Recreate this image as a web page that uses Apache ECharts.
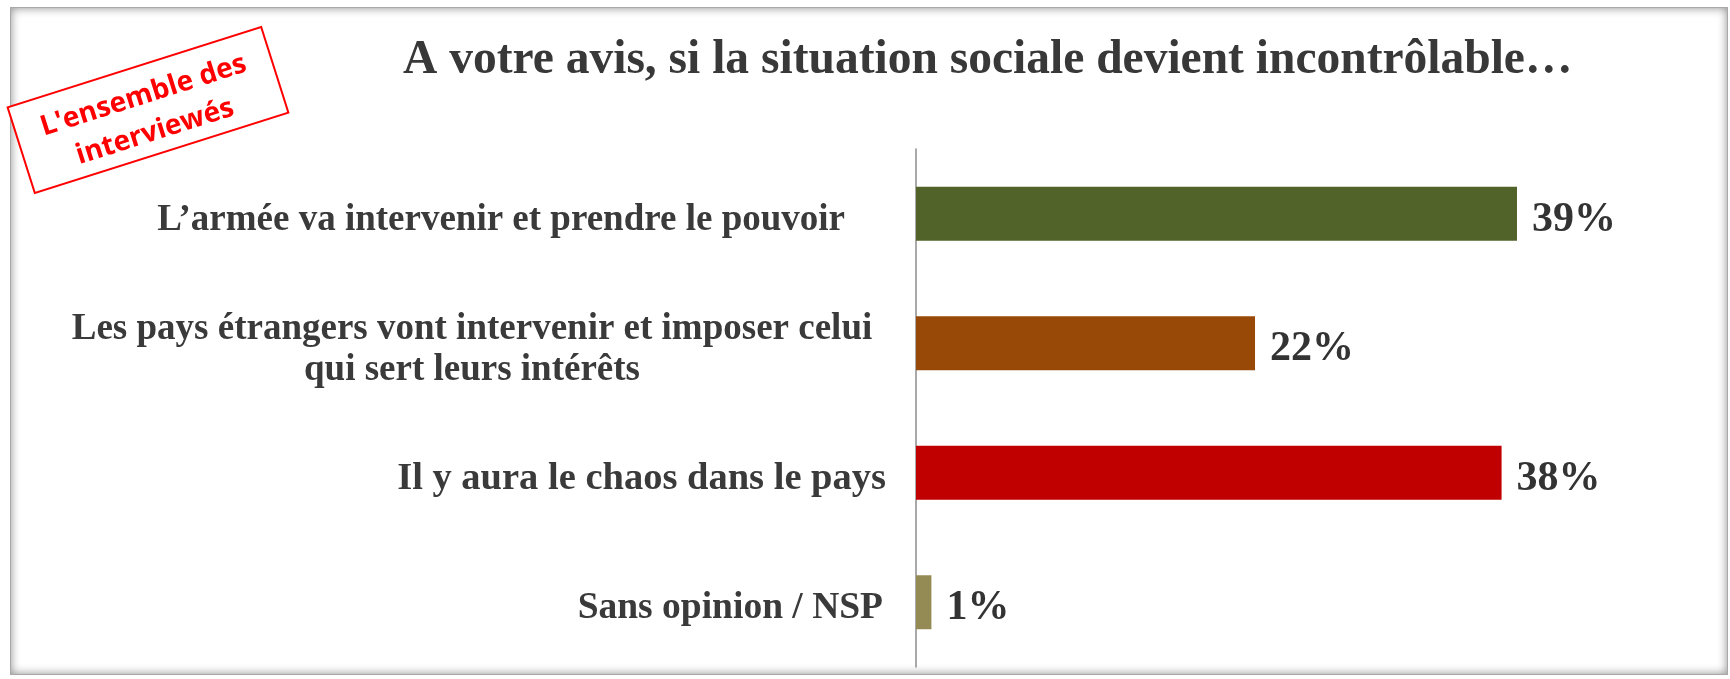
<!DOCTYPE html>
<html>
<head>
<meta charset="utf-8">
<script src="https://cdn.jsdelivr.net/npm/echarts@6/dist/echarts.min.js"></script>
<style>
  html, body { margin: 0; padding: 0; background: #ffffff; }
  #wrap { position: relative; width: 1730px; height: 679px; overflow: hidden; background: #fff; }
  #frame { position: absolute; left: 10px; top: 7px; width: 1716px; height: 666px;
           border: 1px solid #a8a8a8; box-shadow: inset 0 0 10px rgba(0,0,0,0.45); }
  #chart { position: absolute; left: 0; top: 0; width: 1730px; height: 679px; }
</style>
</head>
<body>
<div id="wrap">
  <div id="frame"></div>
  <div id="chart"></div>
</div>
<script>
const titleText = "A votre avis, si la situation sociale devient incontrôlable…";
const stampText = "L'ensemble des\ninterviewés";
const categories = [
  "L’armée va intervenir et prendre le pouvoir",
  "Les pays étrangers vont intervenir et imposer celui\nqui sert leurs intérêts",
  "Il y aura le chaos dans le pays",
  "Sans opinion / NSP"
];
const values = [39, 22, 38, 1];
const barColors = ["#52632A", "#984807", "#C00000", "#948A54"];

const chart = echarts.init(document.getElementById('chart'), null, { renderer: 'canvas' });

const serif = "'Liberation Serif', 'Times New Roman', serif";
const base = { fontFamily: serif, fontWeight: 'bold', color: '#3a3a3a' };
const labelRich = {
  a: Object.assign({}, base, { fontSize: 37, padding: [13, 41, 0, 0] }),
  b1: Object.assign({}, base, { fontSize: 37, width: 800, align: 'center', lineHeight: 41, padding: [13, 14, 0, 0] }),
  b2: Object.assign({}, base, { fontSize: 37, width: 800, align: 'center', lineHeight: 41, padding: [13, 14, 0, 0] }),
  c: Object.assign({}, base, { fontSize: 38.5, padding: [13, 0, 0, 0] }),
  d: Object.assign({}, base, { fontSize: 37.5, padding: [13, 3, 0, 0] })
};
const styleKeys = [['a'], ['b1', 'b2'], ['c'], ['d']];

const option = {
  animation: false,
  title: {
    text: titleText,
    left: 398,
    top: 32,
    textStyle: { fontFamily: serif, fontWeight: 'bold', fontSize: 47.5, color: '#383838' }
  },
  grid: { left: 916, top: 149, height: 518, right: 43.5, containLabel: false },
  xAxis: {
    type: 'value', min: 0, max: 50,
    show: false
  },
  yAxis: {
    type: 'category',
    inverse: true,
    data: categories,
    axisLine: { show: true, lineStyle: { color: '#8c8c8c', width: 1.5 } },
    axisTick: { show: false },
    splitLine: { show: false },
    axisLabel: {
      margin: 30,
      formatter: function (value, index) {
        const keys = styleKeys[index];
        return value.split('\n').map(function (line, j) {
          return '{' + keys[Math.min(j, keys.length - 1)] + '|' + line + '}';
        }).join('\n');
      },
      rich: labelRich
    }
  },
  series: [{
    type: 'bar',
    data: values.map(function (v, i) { return { value: v, itemStyle: { color: barColors[i] } }; }),
    barWidth: 54,
    label: {
      show: true,
      position: 'right',
      distance: 15,
      offset: [0, 6],
      formatter: '{c}%',
      fontFamily: serif,
      fontWeight: 'bold',
      fontSize: 42,
      color: '#333333'
    }
  }],
  graphic: [{
    type: 'group',
    x: 148, y: 110,
    rotation: 0.307,
    children: [
      { type: 'rect', shape: { x: -133, y: -45, width: 266, height: 90 },
        style: { fill: '#ffffff', stroke: '#FF0000', lineWidth: 2 } },
      { type: 'text', x: 0, y: 4,
        style: { text: stampText, fill: '#FF0000', font: "bold 28px 'Open Sans', sans-serif",
                 align: 'center', verticalAlign: 'middle', lineHeight: 38 } }
    ]
  }]
};
chart.setOption(option);
</script>
</body>
</html>
